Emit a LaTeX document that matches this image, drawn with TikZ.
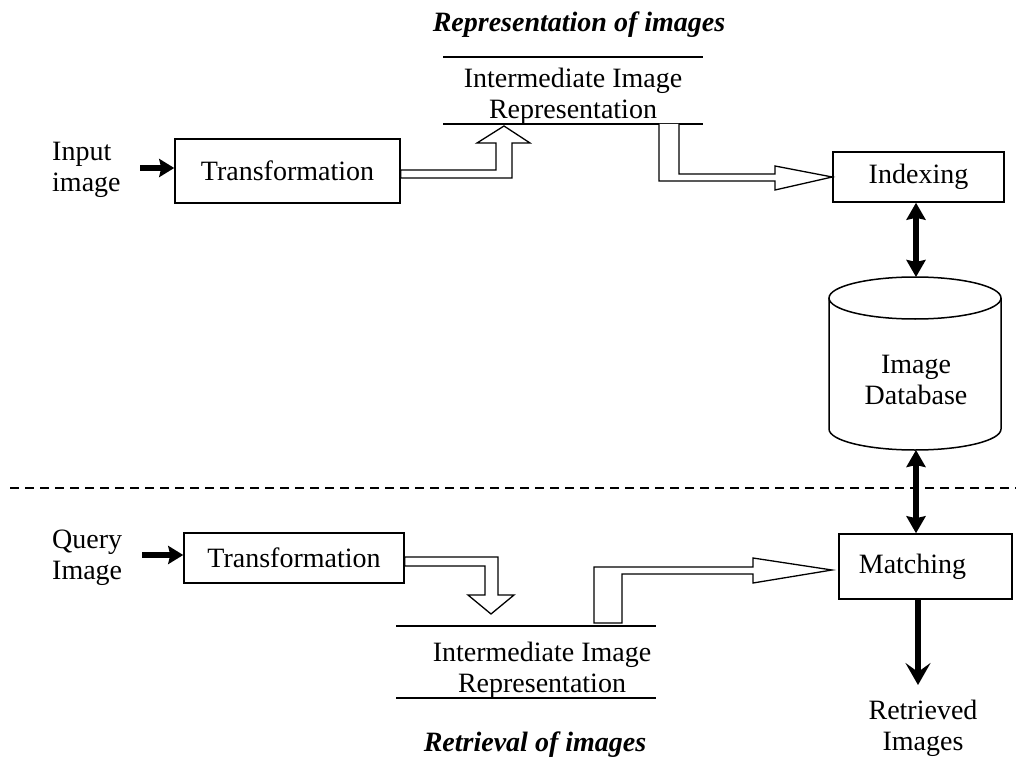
\documentclass[tikz,border=0pt]{standalone}
\usepackage{fontspec}
\setmainfont{Liberation Serif}
\usetikzlibrary{arrows,arrows.meta,calc,positioning}
\tikzstyle{block} = [rectangle, draw=black, line width=1.5pt, inner sep=0pt, text centered]
\tikzstyle{txt} = [inner sep=0pt, align=left]
\tikzstyle{store} = [inner sep=0pt, align=center]
\tikzstyle{hollow} = [draw=black, line width=1.3pt, fill=white, line join=miter]
\tikzstyle{bigarrow} = [line width=6pt, -{Stealth[length=15pt,width=18pt,inset=2pt]}]
\tikzstyle{outarrow} = [line width=6pt, -{Stealth[length=22pt,width=25pt,inset=9pt]}]
\tikzstyle{dbarrow} = [line width=6pt, {Stealth[length=17pt,width=19pt,inset=2pt]}-{Stealth[length=17pt,width=19pt,inset=2pt]}]

\begin{document}
\begin{tikzpicture}[x=1pt,y=-1pt]
        \tikzstyle{every node}=[font=\fontsize{28}{31}\selectfont]
        \useasboundingbox (0,0) rectangle (1016,759);

        % representation of images
        \node (Title1) at (579,25) {\textbf{\textit{Representation of images}}};
        \node[txt, anchor=west] (Input) at (52,170) {Input\\image};
        \node[block, minimum width=225pt, minimum height=64pt] (Trans1) at (287.5,171) {Transformation};
        \node[store] (Rep1) at (573,96) {Intermediate Image\\Representation};
        \draw[line width=1.5pt] (443,57) -- (703,57);
        \draw[line width=1.5pt] (443,124) -- (703,124);
        \node[block, minimum width=171pt, minimum height=50pt] (Indexing) at (918.5,177) {Indexing};

        % database
        \node[store] (DB) at (916,380) {Image\\Database};
        \draw[line width=1.5pt] (829,298) -- (829,429) arc[start angle=180, end angle=360, x radius=86pt, y radius=21pt] -- (1001,298);
        \draw[line width=1.5pt] (915,298) ellipse [x radius=86pt, y radius=21pt];
        \coordinate (DBtop) at (916,277);
        \coordinate (DBbot) at (916,450);

        \draw[line width=2.5pt, dash pattern=on 9pt off 6pt] (10,488) -- (1016,488);

        % retrieval of images
        \node[txt, anchor=west] (Query) at (52,558) {Query\\Image};
        \node[block, minimum width=220pt, minimum height=50pt] (Trans2) at (294,558) {Transformation};
        \node[store] (Rep2) at (542,670) {Intermediate Image\\Representation};
        \draw[line width=1.5pt] (396,626) -- (656,626);
        \draw[line width=1.5pt] (396,698) -- (656,698);
        \node[block, minimum width=173pt, minimum height=65pt] (Matching) at (925.5,566.5) {Matching\hspace*{26pt}};
        \node[store] (Retrieved) at (923,728) {Retrieved\\Images};
        \node (Title2) at (535,745) {\textbf{\textit{Retrieval of images}}};
        \coordinate (Out) at (918,685);

        % thick arrows
        \draw[bigarrow] (140,168) -- (Trans1.west |- 0,168);
        \draw[bigarrow] (142,555) -- (Trans2.west |- 0,555);
        \draw[dbarrow] (DBtop |- Indexing.south) -- (DBtop);
        \draw[dbarrow] (DBbot) -- (DBbot |- Matching.north);
        \draw[outarrow] (Out |- Matching.south) -- (Out);

        % hollow arrows
        \draw[hollow] ([yshift=1pt]Trans1.east) -- (496,170) -- (496,143) -- (477,143) -- (504,126)
            -- (530,143) -- (512,143) -- (512,178) -- (Trans1.east |- 0,178) -- cycle;
        \draw[hollow] (659,124) -- (659,181) -- (775,181) -- (775,190) -- (Indexing.west)
            -- (775,166) -- (775,174) -- (679,174) -- (679,124);
        \draw[hollow] ([yshift=1pt]Trans2.east) -- (498,557) -- (498,595) -- (514,595) -- (491,614)
            -- (468,595) -- (485,595) -- (485,566) -- (Trans2.east |- 0,566) -- cycle;
        \draw[hollow] (594,623) -- (594,567) -- (753,567) -- (753,558) -- (832,570)
            -- (753,583) -- (753,574) -- (622,574) -- (622,623) -- cycle;

\end{tikzpicture}
\end{document}
